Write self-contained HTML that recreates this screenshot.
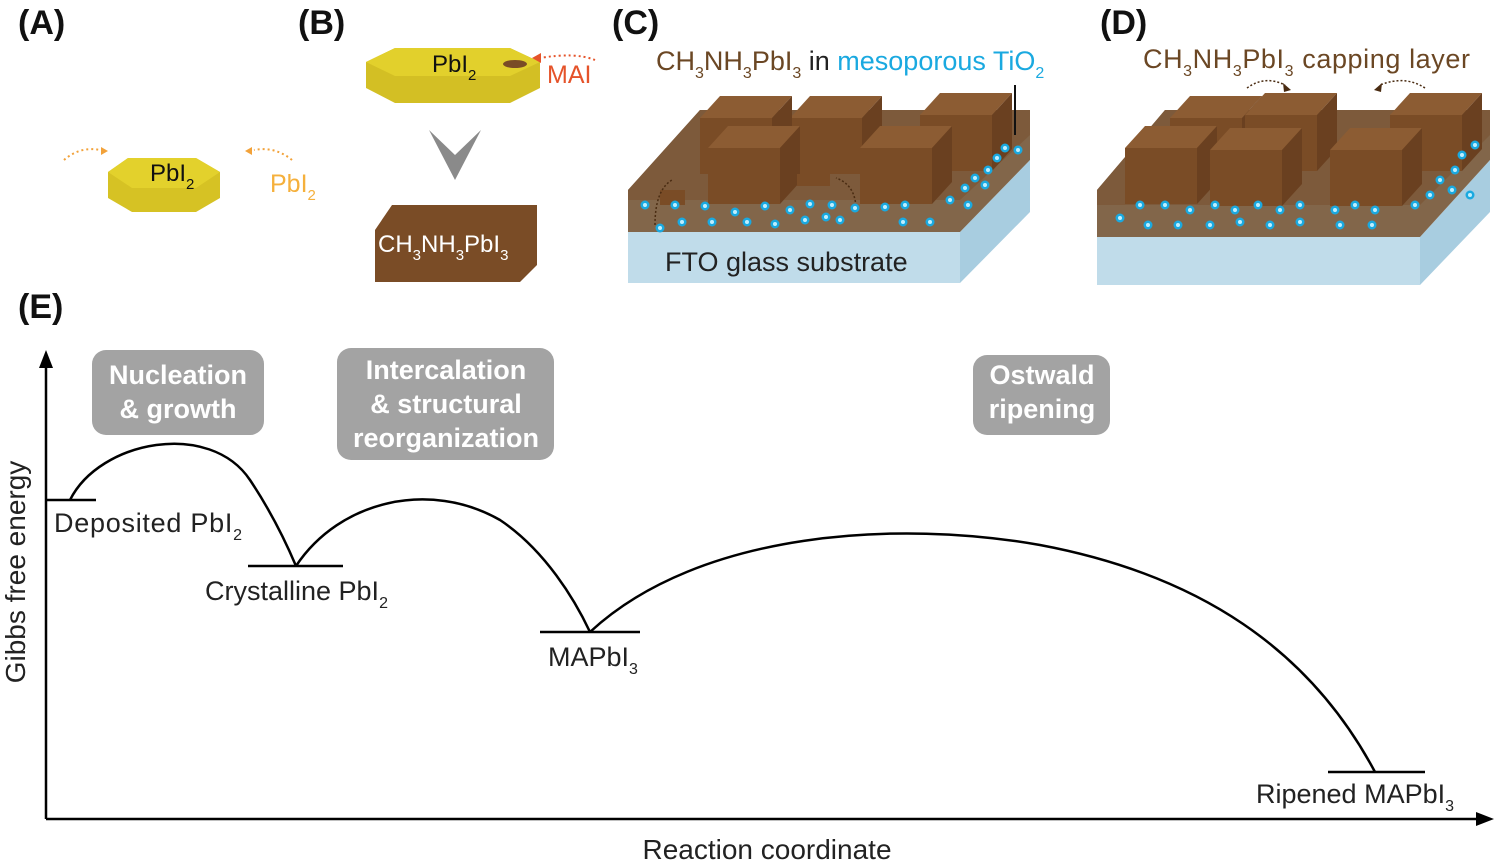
<!DOCTYPE html>
<html><head><meta charset="utf-8"><style>
html,body{margin:0;padding:0;background:#fff;}
svg{display:block;font-family:"Liberation Sans",sans-serif;}
</style></head><body>
<svg width="1500" height="866" viewBox="0 0 1500 866" xmlns="http://www.w3.org/2000/svg">
<defs>
<g id="dot"><circle r="4.5" fill="#1aa9e0"/><circle r="2" fill="#bfefff"/></g>
<g id="cube">
 <polygon points="0,0 72,0 72,56 0,56" fill="#7a4c26"/>
 <polygon points="0,0 20,-22 92,-22 72,0" fill="#8c5c33"/>
 <polygon points="72,0 92,-22 92,34 72,56" fill="#6a4020"/>
</g>
</defs>
<g font-weight="bold" font-size="34" fill="#111">
<text x="18" y="34">(A)</text><text x="298" y="34">(B)</text><text x="612" y="34">(C)</text><text x="1100" y="34">(D)</text><text x="18" y="318">(E)</text>
</g>
<!-- A hexagon -->
<polygon points="108,172 128,158 196,158 220,172 220,198 196,212 132,212 108,198" fill="#d6c224"/>
<polygon points="108,172 128,158 196,158 220,172 196,188 132,188" fill="#e3d12c"/>
<text x="150" y="181" font-size="24" fill="#111">PbI<tspan font-size="15" dy="8">2</tspan></text>
<path d="M64,160 Q80,146 100,150" stroke="#f2a23a" stroke-width="2" stroke-dasharray="2,3" fill="none"/>
<path d="M292,160 Q275,146 254,150" stroke="#f2a23a" stroke-width="2" stroke-dasharray="2,3" fill="none"/>
<polygon points="101,147 101,155 108,151" fill="#f2a23a"/><polygon points="252,147 252,155 245,151" fill="#f2a23a"/>
<text x="270" y="192" font-size="25" fill="#f5b03c">PbI<tspan font-size="15" dy="8">2</tspan></text>
<!-- B hexagon -->
<polygon points="366,62 395,48 510,48 540,62 540,88 510,103 395,103 366,88" fill="#d3bf24"/>
<polygon points="366,62 395,48 510,48 540,62 510,76 395,76" fill="#e2d02c"/>
<ellipse cx="515" cy="64" rx="12" ry="4" fill="#7a4c26"/>
<text x="432" y="72" font-size="24" fill="#111">PbI<tspan font-size="15" dy="8">2</tspan></text>
<path d="M595,60 Q575,52 540,58" stroke="#e5532a" stroke-width="2" stroke-dasharray="2,3" fill="none"/>
<polygon points="532,58 541,53 541,63" fill="#e5532a"/>
<text x="547" y="83" font-size="25" fill="#e5532a">MAI</text>
<polygon points="429,130 455,155 481,130 455,180" fill="#8a8a8a"/>
<polygon points="375,230 392,205 537,205 537,265 520,282 375,282" fill="#7a4c26"/>
<text x="378" y="252" font-size="24" fill="#fff">CH<tspan font-size="15" dy="8">3</tspan><tspan dy="-8">NH</tspan><tspan font-size="15" dy="8">3</tspan><tspan dy="-8">PbI</tspan><tspan font-size="15" dy="8">3</tspan></text>
<!-- C -->
<g>
<polygon points="628,232 960,232 960,283 628,283" fill="#c0dcea"/>
<polygon points="960,232 1030,160 1030,212 960,283" fill="#a8cde0"/>
<polygon points="628,232 960,232 1030,160 1030,110 700,110 628,190" fill="#82664a"/>
<polygon points="628,190 700,110 1030,110 1030,135 960,200 628,200" fill="#7d5a3b"/>
<use href="#cube" x="790" y="118"/>
<use href="#cube" x="700" y="118"/>
<use href="#cube" x="920" y="115"/>
<use href="#cube" x="708" y="148"/>
<use href="#cube" x="860" y="148"/>
<polygon points="660,190 685,190 685,205 660,205" fill="#7a4c26"/>
<polygon points="797,174 830,174 830,186 797,186" fill="#7a4c26"/>
<path d="M655,225 Q655,190 672,180" stroke="#4a2c12" stroke-width="1.5" stroke-dasharray="2,2" fill="none"/>
<path d="M856,210 Q856,185 836,178" stroke="#4a2c12" stroke-width="1.5" stroke-dasharray="2,2" fill="none"/>
<line x1="1015" y1="135" x2="1015" y2="85" stroke="#111" stroke-width="2"/>
<use href="#dot" x="645" y="205"/><use href="#dot" x="675" y="205"/><use href="#dot" x="705" y="206"/><use href="#dot" x="735" y="212"/><use href="#dot" x="765" y="206"/><use href="#dot" x="790" y="210"/><use href="#dot" x="810" y="204"/><use href="#dot" x="832" y="205"/><use href="#dot" x="855" y="208"/><use href="#dot" x="885" y="207"/><use href="#dot" x="905" y="205"/><use href="#dot" x="660" y="228"/><use href="#dot" x="682" y="222"/><use href="#dot" x="712" y="222"/><use href="#dot" x="747" y="222"/><use href="#dot" x="775" y="224"/><use href="#dot" x="805" y="220"/><use href="#dot" x="826" y="217"/><use href="#dot" x="840" y="220"/><use href="#dot" x="903" y="222"/><use href="#dot" x="930" y="222"/><use href="#dot" x="950" y="200"/><use href="#dot" x="965" y="188"/><use href="#dot" x="975" y="178"/><use href="#dot" x="988" y="170"/><use href="#dot" x="997" y="158"/><use href="#dot" x="1005" y="148"/><use href="#dot" x="1018" y="150"/><use href="#dot" x="968" y="205"/><use href="#dot" x="985" y="185"/>
<text x="665" y="271" font-size="27" fill="#222">FTO glass substrate</text>
<text x="656" y="70" font-size="27" fill="#6b4724">CH<tspan font-size="16" dy="8">3</tspan><tspan dy="-8">NH</tspan><tspan font-size="16" dy="8">3</tspan><tspan dy="-8">PbI</tspan><tspan font-size="16" dy="8">3</tspan><tspan dy="-8" fill="#222"> in </tspan><tspan fill="#1aa9e0">mesoporous TiO</tspan><tspan font-size="16" dy="8" fill="#1aa9e0">2</tspan></text>
</g>
<!-- D -->
<g>
<polygon points="1097,237 1420,237 1420,285 1097,285" fill="#c0dcea"/>
<polygon points="1420,237 1490,160 1490,212 1420,285" fill="#a8cde0"/>
<polygon points="1097,237 1420,237 1490,160 1490,110 1165,110 1097,190" fill="#82664a"/>
<polygon points="1097,190 1165,110 1490,110 1490,135 1420,205 1097,205" fill="#7d5a3b"/>
<use href="#cube" x="1170" y="118"/><use href="#cube" x="1245" y="115"/><use href="#cube" x="1390" y="115"/>
<use href="#cube" x="1125" y="148"/><use href="#cube" x="1210" y="150"/><use href="#cube" x="1330" y="150"/>
<path d="M1247,88 Q1265,75 1285,85" stroke="#4a2c12" stroke-width="1.5" stroke-dasharray="2,2" fill="none"/>
<path d="M1425,88 Q1405,75 1380,85" stroke="#4a2c12" stroke-width="1.5" stroke-dasharray="2,2" fill="none"/>
<polygon points="1283,83 1291,90 1284,92" fill="#4a2c12"/><polygon points="1382,83 1374,90 1381,92" fill="#4a2c12"/>
<use href="#dot" x="1140" y="205"/><use href="#dot" x="1165" y="205"/><use href="#dot" x="1190" y="210"/><use href="#dot" x="1215" y="205"/><use href="#dot" x="1235" y="210"/><use href="#dot" x="1258" y="205"/><use href="#dot" x="1280" y="210"/><use href="#dot" x="1300" y="205"/><use href="#dot" x="1335" y="210"/><use href="#dot" x="1355" y="205"/><use href="#dot" x="1375" y="210"/><use href="#dot" x="1120" y="218"/><use href="#dot" x="1148" y="225"/><use href="#dot" x="1178" y="225"/><use href="#dot" x="1210" y="225"/><use href="#dot" x="1240" y="222"/><use href="#dot" x="1270" y="225"/><use href="#dot" x="1300" y="222"/><use href="#dot" x="1340" y="225"/><use href="#dot" x="1372" y="225"/><use href="#dot" x="1415" y="205"/><use href="#dot" x="1430" y="195"/><use href="#dot" x="1440" y="180"/><use href="#dot" x="1455" y="170"/><use href="#dot" x="1462" y="155"/><use href="#dot" x="1475" y="145"/><use href="#dot" x="1470" y="195"/><use href="#dot" x="1452" y="190"/>
<text x="1143" y="68" font-size="27" fill="#6b4724" textLength="327">CH<tspan font-size="16" dy="8">3</tspan><tspan dy="-8">NH</tspan><tspan font-size="16" dy="8">3</tspan><tspan dy="-8">PbI</tspan><tspan font-size="16" dy="8">3</tspan><tspan dy="-8"> capping layer</tspan></text>
</g>
<!-- E -->
<line x1="46" y1="819" x2="46" y2="365" stroke="#000" stroke-width="2.5"/>
<polygon points="46,350 39,368 53,368" fill="#000"/>
<line x1="46" y1="819" x2="1478" y2="819" stroke="#000" stroke-width="2.5"/>
<polygon points="1494,819 1476,812 1476,826" fill="#000"/>
<text transform="translate(25,572) rotate(-90)" text-anchor="middle" font-size="28" fill="#222">Gibbs free energy</text>
<text x="767" y="859" text-anchor="middle" font-size="28" fill="#222">Reaction coordinate</text>
<g fill="#a3a3a3">
<rect x="92" y="350" width="172" height="85" rx="14"/>
<rect x="337" y="348" width="217" height="112" rx="14"/>
<rect x="973" y="355" width="137" height="80" rx="14"/>
</g>
<g fill="#fff" font-weight="bold" font-size="27" text-anchor="middle">
<text x="178" y="384">Nucleation</text><text x="178" y="418">&amp; growth</text>
<text x="446" y="379">Intercalation</text><text x="446" y="413">&amp; structural</text><text x="446" y="447">reorganization</text>
<text x="1042" y="384">Ostwald</text><text x="1042" y="418">ripening</text>
</g>
<g stroke="#000" stroke-width="2.5" fill="none">
<line x1="46" y1="500" x2="96" y2="500"/>
<line x1="248" y1="566" x2="343" y2="566"/>
<line x1="540" y1="632" x2="640" y2="632"/>
<line x1="1328" y1="772" x2="1425" y2="772"/>
<path d="M70,500 C100,440 210,420 250,480 C270,510 285,540 296,566"/>
<path d="M296,566 C340,500 430,480 500,520 C545,550 575,600 590,632"/>
<path d="M590,632 C700,530 900,520 1040,545 C1200,575 1310,650 1375,772"/>
</g>
<g font-size="27" fill="#222">
<text x="54" y="532" textLength="188">Deposited PbI<tspan font-size="16" dy="8">2</tspan></text>
<text x="205" y="600">Crystalline PbI<tspan font-size="16" dy="8">2</tspan></text>
<text x="548" y="666">MAPbI<tspan font-size="16" dy="8">3</tspan></text>
<text x="1256" y="803">Ripened MAPbI<tspan font-size="16" dy="8">3</tspan></text>
</g>
</svg>
</body></html>
